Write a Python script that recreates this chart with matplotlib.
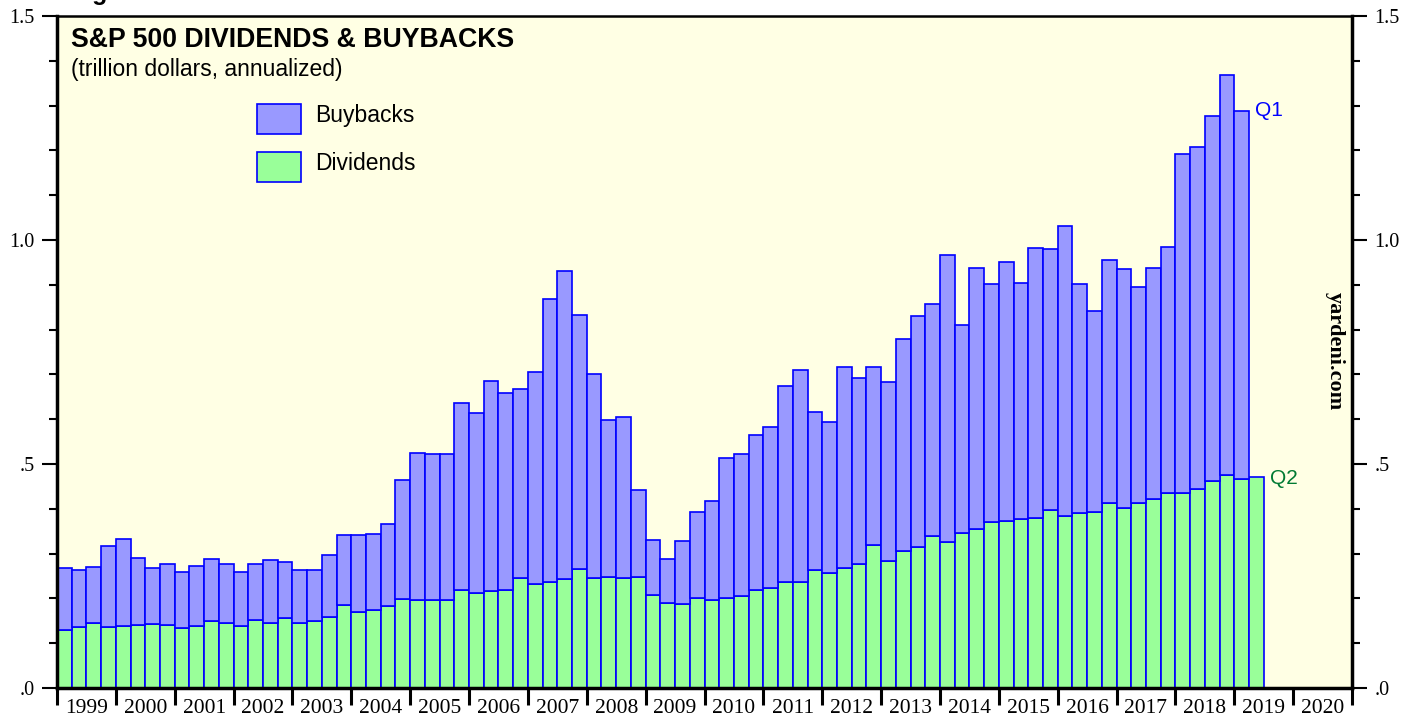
import numpy as np
import matplotlib
matplotlib.use("Agg")
import matplotlib.pyplot as plt
from matplotlib.patches import Rectangle

# quarterly data, 1999Q1 onward (trillion dollars, annualized)
dividends = [
    0.130, 0.136, 0.146, 0.136,  # 1999
    0.138, 0.141, 0.143, 0.141,  # 2000
    0.135, 0.138, 0.150, 0.145,  # 2001
    0.138, 0.152, 0.144, 0.157,  # 2002
    0.144, 0.150, 0.159, 0.186,  # 2003
    0.169, 0.173, 0.182, 0.199,  # 2004
    0.196, 0.196, 0.196, 0.219,  # 2005
    0.212, 0.217, 0.219, 0.246,  # 2006
    0.232, 0.237, 0.243, 0.266,  # 2007
    0.246, 0.247, 0.245, 0.248,  # 2008
    0.207, 0.190, 0.188, 0.200,  # 2009
    0.197, 0.201, 0.205, 0.219,  # 2010
    0.223, 0.236, 0.236, 0.263,  # 2011
    0.256, 0.268, 0.277, 0.319,  # 2012
    0.283, 0.306, 0.315, 0.339,  # 2013
    0.327, 0.346, 0.355, 0.370,  # 2014
    0.372, 0.377, 0.380, 0.397,  # 2015
    0.385, 0.391, 0.393, 0.413,  # 2016
    0.402, 0.414, 0.422, 0.435,  # 2017
    0.435, 0.445, 0.461, 0.475,  # 2018
    0.467, 0.472,                # 2019
]
buybacks = [
    0.137, 0.128, 0.123, 0.180,  # 1999
    0.194, 0.150, 0.125, 0.135,  # 2000
    0.125, 0.135, 0.139, 0.131,  # 2001
    0.122, 0.124, 0.141, 0.124,  # 2002
    0.120, 0.114, 0.138, 0.155,  # 2003
    0.172, 0.171, 0.183, 0.265,  # 2004
    0.328, 0.326, 0.326, 0.418,  # 2005
    0.402, 0.468, 0.439, 0.421,  # 2006
    0.473, 0.631, 0.688, 0.567,  # 2007
    0.456, 0.352, 0.359, 0.193,  # 2008
    0.123, 0.097, 0.141, 0.193,  # 2009
    0.221, 0.312, 0.318, 0.346,  # 2010
    0.360, 0.437, 0.474, 0.352,  # 2011
    0.338, 0.448, 0.416, 0.397,  # 2012
    0.400, 0.473, 0.515, 0.519,  # 2013
    0.639, 0.465, 0.582, 0.532,  # 2014
    0.578, 0.527, 0.602, 0.584,  # 2015
    0.646, 0.510, 0.449, 0.542,  # 2016
    0.533, 0.482, 0.516, 0.549,  # 2017
    0.757, 0.762, 0.815, 0.893,  # 2018
    0.822,                       # 2019
]
start_year = 1999
years = list(range(1999, 2021))
ytick_vals = [0.0, 0.5, 1.0, 1.5]
ytick_labels = [".0", ".5", "1.0", "1.5"]

x_div = start_year + 0.25 * np.arange(len(dividends))
x_buy = start_year + 0.25 * np.arange(len(buybacks))

serif = "Liberation Serif"
sans = "Liberation Sans"

fig = plt.figure(figsize=(14.17, 7.19), dpi=100)
ax = fig.add_axes([57 / 1417, 31 / 719, 1295 / 1417, 672 / 719])
ax.set_facecolor("#FFFFE4")

ax.bar(x_div, dividends, width=0.25, align="edge", color="#99FF99",
       edgecolor="#0000FF", linewidth=1.2, zorder=2)
ax.bar(x_buy, buybacks, width=0.25, align="edge", bottom=dividends[:len(buybacks)],
       color="#9999FF", edgecolor="#0000FF", linewidth=1.2, zorder=2)

ax.set_xlim(1999, 2021)
ax.set_ylim(0, 1.5)

# x axis: ticks at year boundaries, labels centred on each year
ax.set_xticks(range(1999, 2022))
ax.set_xticklabels([])
ax.set_xticks([y + 0.5 for y in years], minor=True)
ax.set_xticklabels([str(y) for y in years], minor=True, fontfamily=serif, fontsize=15.5)
ax.tick_params(axis="x", which="major", direction="out", length=12, width=2.2)
ax.tick_params(axis="x", which="minor", length=0, pad=8)

# y axis on both sides
ax.set_yticks(ytick_vals)
ax.set_yticklabels(ytick_labels, fontfamily=serif, fontsize=14.5)
ax.set_yticks(np.arange(0, 1.51, 0.1), minor=True)
ax.tick_params(axis="y", which="major", direction="out", length=11, width=1.5,
               left=True, right=True, labelleft=True, labelright=True, pad=5)
ax.tick_params(axis="y", which="minor", direction="out", length=5.5, width=1.5,
               left=True, right=True)
for lab in ax.get_yticklabels(which="major"):
    lab.set_fontfamily(serif)

for side in ["left", "right", "bottom"]:
    ax.spines[side].set_linewidth(2.5)
ax.spines["top"].set_linewidth(1.8)

# titles
ax.text(0.011, 0.984, "S&P 500 DIVIDENDS & BUYBACKS", transform=ax.transAxes,
        fontfamily=sans, fontsize=19.2, fontweight="bold", va="top", ha="left")
ax.text(0.011, 0.938, "(trillion dollars, annualized)", transform=ax.transAxes,
        fontfamily=sans, fontsize=16.5, va="top", ha="left")
fig.text(70 / 1417, 1.0, "Figure 1.", fontfamily=sans, fontsize=18,
         fontweight="bold", va="baseline", ha="left")

# legend drawn by hand
legend_items = [("Buybacks", "#9999FF"), ("Dividends", "#99FF99")]
for i, (name, col) in enumerate(legend_items):
    y0 = 0.825 - i * 0.0715
    ax.add_patch(Rectangle((0.1545, y0), 0.034, 0.0445, transform=ax.transAxes,
                           facecolor=col, edgecolor="#0000FF", linewidth=1.2, zorder=3))
    ax.text(0.1995, y0 + 0.0275, name, transform=ax.transAxes, fontfamily=sans,
            fontsize=16.5, va="center", ha="left")

# end-of-series labels
ax.text(x_buy[-1] + 0.35, dividends[len(buybacks) - 1] + buybacks[-1], "Q1",
        color="#0000FF", fontfamily=sans, fontsize=15, va="center", ha="left")
ax.text(x_div[-1] + 0.35, dividends[-1] - 0.005, "Q2", color="#007A33",
        fontfamily=sans, fontsize=15, va="center", ha="left")

ax.text(0.987, 0.5015, "yardeni.com", transform=ax.transAxes, rotation=-90,
        fontfamily=serif, fontsize=16, fontweight="bold", va="center", ha="center")

fig.savefig("out.png", dpi=100, facecolor="white")
